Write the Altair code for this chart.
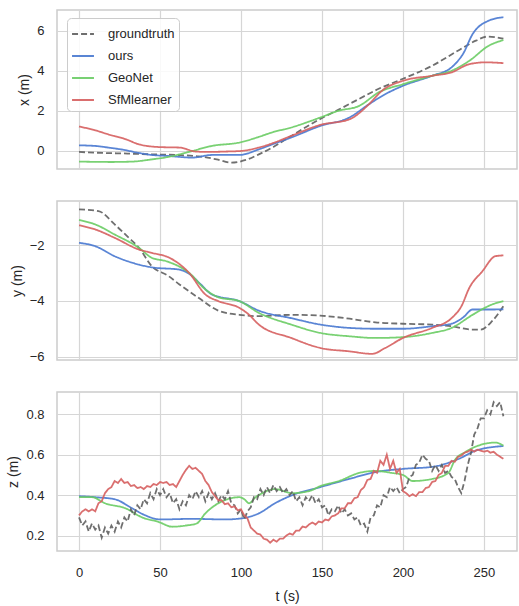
import altair as alt
import pandas as pd

SERIES = ["groundtruth", "ours", "GeoNet", "SfMlearner"]
COLORS = ["#5f5f5f", "#4878d0", "#6acc64", "#d65f5f"]
DASHES = [[6, 3], [1, 0], [1, 0], [1, 0]]

# ---------- panel 1: x (m)
gt_x_t = [0, 15, 30, 45, 60, 74, 85, 94, 103, 111, 120, 131, 149, 160, 173, 185, 200, 218, 235, 245, 252, 262]
gt_x_v = [-0.05, -0.1, -0.13, -0.17, -0.2, -0.27, -0.42, -0.58, -0.45, -0.17, 0.2, 0.75, 1.6, 2.05, 2.6, 3.1, 3.6, 4.25, 5.05, 5.5, 5.7, 5.6]
ours_x_t = [0, 10, 18, 28, 37, 45, 55, 70, 82, 99, 111, 120, 131, 149, 167, 179, 189, 200, 218, 230, 234, 237, 243, 253, 262]
ours_x_v = [0.28, 0.25, 0.17, 0.05, -0.1, -0.2, -0.25, -0.33, -0.2, -0.2, 0.08, 0.35, 0.67, 1.25, 1.67, 2.33, 2.83, 3.25, 3.75, 4.17, 4.5, 4.83, 5.83, 6.5, 6.67]
geo_x_t = [0, 20, 33, 45, 55, 62, 70, 82, 99, 111, 119, 131, 149, 160, 173, 185, 200, 218, 230, 241, 253, 262]
geo_x_v = [-0.53, -0.55, -0.53, -0.42, -0.3, -0.17, 0.0, 0.25, 0.42, 0.7, 0.92, 1.17, 1.67, 2.0, 2.25, 2.92, 3.33, 3.75, 4.0, 4.5, 5.25, 5.53]
sfm_x_t = [0, 10, 18, 29, 37, 45, 55, 62, 72, 80, 90, 100, 111, 120, 131, 149, 167, 179, 187, 200, 218, 230, 241, 251, 262]
sfm_x_v = [1.22, 1.03, 0.83, 0.58, 0.33, 0.22, 0.18, 0.17, -0.03, -0.05, -0.03, 0.0, 0.17, 0.4, 0.75, 1.3, 1.58, 2.33, 3.0, 3.5, 3.75, 3.92, 4.33, 4.42, 4.38]

# ---------- panel 2: y (m)
gt_y_t = [0, 12, 22, 30, 37, 45, 55, 62, 74, 86, 99, 111, 131, 149, 167, 183, 200, 218, 230, 243, 248, 255, 262]
gt_y_v = [-0.72, -0.78, -1.26, -1.7, -2.1, -2.76, -3.1, -3.41, -3.9, -4.35, -4.5, -4.55, -4.5, -4.53, -4.64, -4.77, -4.82, -4.85, -4.91, -5.03, -5.03, -4.73, -4.19]
ours_y_t = [0, 10, 22, 37, 45, 62, 68, 75, 82, 99, 111, 131, 149, 167, 183, 200, 218, 230, 237, 243, 255, 262]
ours_y_v = [-1.92, -2.04, -2.4, -2.7, -2.8, -2.88, -3.03, -3.4, -3.77, -4.01, -4.35, -4.62, -4.85, -4.97, -5.0, -5.0, -4.91, -4.82, -4.6, -4.31, -4.31, -4.3]
geo_y_t = [0, 10, 22, 37, 45, 54, 68, 78, 86, 99, 111, 131, 149, 167, 183, 200, 218, 230, 243, 255, 262]
geo_y_v = [-1.1, -1.26, -1.62, -2.1, -2.46, -2.58, -3.0, -3.59, -3.87, -4.01, -4.43, -4.85, -5.15, -5.27, -5.33, -5.3, -5.15, -4.97, -4.5, -4.13, -4.01]
sfm_y_t = [0, 10, 22, 37, 45, 56, 68, 78, 86, 99, 105, 111, 131, 149, 167, 181, 189, 200, 218, 230, 236, 241, 249, 257, 262]
sfm_y_v = [-1.29, -1.44, -1.74, -2.16, -2.28, -2.46, -3.0, -3.77, -4.01, -4.25, -4.5, -4.85, -5.33, -5.69, -5.81, -5.9, -5.69, -5.33, -4.97, -4.62, -4.2, -3.53, -2.94, -2.4, -2.37]

# ---------- panel 3: z (m)
z_t = list(range(0, 263, 2))
gt_z_v = [0.29, 0.25, 0.27, 0.22, 0.26, 0.23, 0.25, 0.19, 0.24, 0.21, 0.25, 0.22, 0.27, 0.24, 0.29, 0.27,
          0.33, 0.30, 0.35, 0.33, 0.38, 0.36, 0.41, 0.38, 0.43, 0.40, 0.43, 0.39, 0.41, 0.36, 0.38, 0.33,
          0.37, 0.35, 0.40, 0.38, 0.42, 0.39, 0.42, 0.37, 0.41, 0.38, 0.41, 0.37, 0.40, 0.38, 0.42, 0.36,
          0.35, 0.31, 0.33, 0.28, 0.32, 0.34, 0.39, 0.38, 0.43, 0.40, 0.44, 0.41, 0.45, 0.42, 0.44, 0.41,
          0.43, 0.40, 0.42, 0.37, 0.39, 0.35, 0.39, 0.37, 0.40, 0.36, 0.38, 0.34, 0.35, 0.30, 0.33, 0.32,
          0.35, 0.31, 0.33, 0.30, 0.31, 0.28, 0.29, 0.25, 0.26, 0.22, 0.29, 0.30, 0.35, 0.34, 0.40, 0.39,
          0.44, 0.42, 0.44, 0.41, 0.43, 0.44, 0.49, 0.50, 0.55, 0.56, 0.60, 0.58, 0.57, 0.52, 0.55, 0.52,
          0.55, 0.51, 0.52, 0.49, 0.48, 0.44, 0.41, 0.47, 0.55, 0.61, 0.70, 0.73, 0.78, 0.78, 0.82, 0.80,
          0.86, 0.84, 0.86, 0.79]
sfm_z_v = [0.30, 0.32, 0.33, 0.32, 0.33, 0.32, 0.36, 0.37, 0.41, 0.43, 0.44, 0.47, 0.46, 0.48, 0.46, 0.465,
           0.445, 0.45, 0.435, 0.44, 0.43, 0.445, 0.44, 0.455, 0.45, 0.465, 0.46, 0.465, 0.45, 0.455, 0.44, 0.47,
           0.50, 0.525, 0.545, 0.53, 0.535, 0.52, 0.505, 0.47, 0.45, 0.415, 0.395, 0.375, 0.375, 0.355, 0.36, 0.34,
           0.345, 0.325, 0.33, 0.30, 0.285, 0.24, 0.225, 0.21, 0.205, 0.185, 0.18, 0.165, 0.18, 0.17, 0.185, 0.185,
           0.20, 0.21, 0.205, 0.225, 0.225, 0.245, 0.24, 0.255, 0.265, 0.255, 0.27, 0.265, 0.28, 0.275, 0.295, 0.30,
           0.31, 0.335, 0.335, 0.36, 0.36, 0.385, 0.39, 0.425, 0.44, 0.475, 0.48, 0.52, 0.51, 0.57, 0.55, 0.60,
           0.53, 0.57, 0.51, 0.53, 0.42, 0.41, 0.395, 0.405, 0.395, 0.415, 0.415, 0.435, 0.44, 0.465, 0.47, 0.50,
           0.51, 0.545, 0.545, 0.57, 0.565, 0.59, 0.595, 0.61, 0.615, 0.625, 0.615, 0.625, 0.62, 0.615, 0.62, 0.61,
           0.615, 0.60, 0.59, 0.58]
ours_z_t = [0, 10, 22, 33, 41, 50, 70, 90, 100, 111, 121, 131.6, 149, 166.7, 183, 200, 218, 234.6, 244.8, 262]
ours_z_v = [0.395, 0.39, 0.38, 0.334, 0.3, 0.28, 0.283, 0.28, 0.285, 0.31, 0.36, 0.4, 0.44, 0.48, 0.514, 0.53, 0.54, 0.58, 0.62, 0.643]
geo_z_t = [0, 8, 16, 29, 39, 49, 57.6, 66, 72.6, 78, 86, 99, 102, 105, 109, 111, 121, 131.6, 142, 149, 160.5, 173, 183, 193, 200, 206, 218, 228, 232, 238.7, 251, 257, 262]
geo_z_v = [0.39, 0.39, 0.36, 0.334, 0.29, 0.268, 0.244, 0.25, 0.26, 0.31, 0.36, 0.39, 0.38, 0.36, 0.39, 0.4, 0.43, 0.41, 0.42, 0.445, 0.47, 0.51, 0.52, 0.51, 0.5, 0.47, 0.48, 0.51, 0.573, 0.614, 0.655, 0.66, 0.645]

X_TICKS = [0, 50, 100, 150, 200, 250]
X_DOMAIN = [-13.6, 270.4]


def frame(items):
    rows = []
    for name, ts, vs in items:
        for k, (t, v) in enumerate(zip(ts, vs)):
            rows.append({"t": t, "v": v, "series": name, "k": k})
    return pd.DataFrame(rows)


df1 = frame([("groundtruth", gt_x_t, gt_x_v), ("ours", ours_x_t, ours_x_v),
             ("GeoNet", geo_x_t, geo_x_v), ("SfMlearner", sfm_x_t, sfm_x_v)])
df2 = frame([("groundtruth", gt_y_t, gt_y_v), ("ours", ours_y_t, ours_y_v),
             ("GeoNet", geo_y_t, geo_y_v), ("SfMlearner", sfm_y_t, sfm_y_v)])
df3a = frame([("ours", ours_z_t, ours_z_v), ("GeoNet", geo_z_t, geo_z_v)])
df3b = frame([("groundtruth", z_t, gt_z_v), ("SfMlearner", z_t, sfm_z_v)])

LEG = dict(title=None, orient="none", legendX=10, legendY=8)
color = alt.Color("series:N", scale=alt.Scale(domain=SERIES, range=COLORS), legend=alt.Legend(**LEG))
dash = alt.StrokeDash("series:N", scale=alt.Scale(domain=SERIES, range=DASHES), legend=alt.Legend(**LEG))


def xenc(show):
    if show:
        ax = alt.Axis(values=X_TICKS, format="d", title="t (s)", labelPadding=15, titlePadding=10)
    else:
        ax = alt.Axis(values=X_TICKS, labels=False, title=None, ticks=False)
    return alt.X("t:Q", scale=alt.Scale(domain=X_DOMAIN, nice=False, zero=False), axis=ax)


def yenc(domain, ticks, title, fmt):
    return alt.Y("v:Q", scale=alt.Scale(domain=domain, nice=False, zero=False),
                 axis=alt.Axis(values=ticks, title=title, format=fmt))


W, H = 460, 159

p1 = alt.Chart(df1).mark_line(strokeWidth=1.8, interpolate="monotone", opacity=0.9).encode(
    x=xenc(False), y=yenc([-0.9, 7.03], [0, 2, 4, 6], "x (m)", "d"),
    color=color, strokeDash=dash, order="k:Q").properties(width=W, height=H)

p2 = alt.Chart(df2).mark_line(strokeWidth=1.8, interpolate="monotone", opacity=0.9).encode(
    x=xenc(False), y=yenc([-6.12, -0.42], [-2, -4, -6], "y (m)", "d"),
    color=color, strokeDash=dash, order="k:Q").properties(width=W, height=H)

p3a = alt.Chart(df3b).mark_line(strokeWidth=1.8, opacity=0.9).encode(
    x=xenc(True), y=yenc([0.124, 0.91], [0.2, 0.4, 0.6, 0.8], "z (m)", ".1f"),
    color=color, strokeDash=dash, order="k:Q")
p3b = alt.Chart(df3a).mark_line(strokeWidth=1.8, interpolate="monotone", opacity=0.9).encode(
    x=xenc(True), y=yenc([0.124, 0.91], [0.2, 0.4, 0.6, 0.8], "z (m)", ".1f"),
    color=color, strokeDash=dash, order="k:Q")
p3 = alt.layer(p3b, p3a).properties(width=W, height=H)

chart = alt.vconcat(p1, p2, p3, spacing=32, bounds="flush").properties(
    padding={"left": 6, "top": 9, "right": 0, "bottom": 0}
).configure(font="Liberation Sans").configure_view(
    stroke="#cccccc", strokeWidth=1.5
).configure_axis(
    labelFontSize=13, titleFontSize=14, labelColor="#262626", titleColor="#262626",
    titleFontWeight="normal", ticks=False, domain=False, gridColor="#d6d6d6", gridWidth=1.2,
    labelPadding=13, titlePadding=5
).configure_legend(
    labelFontSize=13, labelColor="#262626", symbolType="stroke", symbolStrokeWidth=2,
    symbolSize=480, rowPadding=3, padding=4, strokeColor="#cccccc",
    fillColor="rgba(255,255,255,0.85)", cornerRadius=4, labelOffset=13
)

chart.save("out.html", embed_options={"renderer": "svg", "actions": False})
